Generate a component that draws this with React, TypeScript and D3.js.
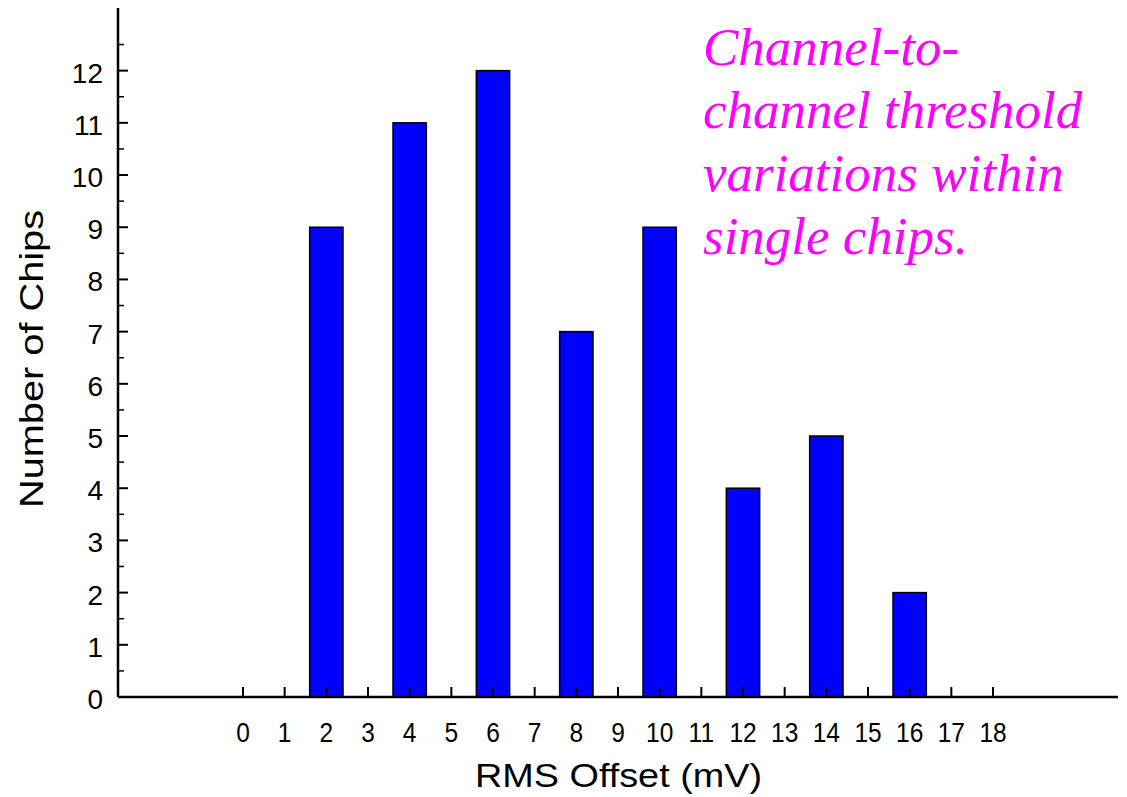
import * as d3 from 'd3';
import React, { useEffect } from 'react';

// RMS offset bins (mV) and number of chips per bin
const offsets = [0, 2, 4, 6, 8, 10, 12, 14, 16, 18];
const chips = [0, 9, 11, 12, 7, 9, 4, 5, 2, 0];
const xTicks = d3.range(0, 19);
const yTicks = d3.range(0, 13);
const noteLines = ['Channel-to-', 'channel threshold', 'variations within', 'single chips.'];

export default function App() {
  const ref = React.useRef<SVGSVGElement>(null);

  useEffect(() => {
    if (!ref.current) return;
    const svg = d3.select(ref.current);
    svg.selectAll('*').remove();

    const x = d3.scaleLinear().domain([-3, 21]).range([118, 1118]);
    const y = d3.scaleLinear().domain([0, 13.2]).range([697, 8]);
    const barW = x(0.8) - x(0);
    const font = 'Arial, "Liberation Sans", sans-serif';

    // bars
    svg
      .append('g')
      .selectAll('rect')
      .data(offsets)
      .enter()
      .append('rect')
      .attr('x', d => x(d) - barW / 2)
      .attr('y', (d, i) => y(chips[i]))
      .attr('width', barW)
      .attr('height', (d, i) => y(0) - y(chips[i]))
      .attr('fill', '#0000ff')
      .attr('stroke', '#000')
      .attr('stroke-width', 1.5);

    // y axis line + ticks
    svg
      .append('line')
      .attr('x1', x(-3))
      .attr('x2', x(-3))
      .attr('y1', y(13.2))
      .attr('y2', y(0))
      .attr('stroke', '#000')
      .attr('stroke-width', 2.5);
    const minor = d3.range(0.5, 13, 1);
    svg
      .append('g')
      .selectAll('line')
      .data(minor)
      .enter()
      .append('line')
      .attr('x1', x(-3))
      .attr('x2', x(-3) + 6)
      .attr('y1', d => y(d))
      .attr('y2', d => y(d))
      .attr('stroke', '#000')
      .attr('stroke-width', 1.5);
    svg
      .append('g')
      .selectAll('line')
      .data(yTicks)
      .enter()
      .append('line')
      .attr('x1', x(-3))
      .attr('x2', x(-3) + 10)
      .attr('y1', d => y(d))
      .attr('y2', d => y(d))
      .attr('stroke', '#000')
      .attr('stroke-width', 2);
    svg
      .append('g')
      .selectAll('text')
      .data(yTicks)
      .enter()
      .append('text')
      .attr('x', 103)
      .attr('y', d => y(d) + 12)
      .attr('text-anchor', 'end')
      .attr('font-family', font)
      .attr('font-size', 28)
      .text(d => d);

    // x axis line + ticks
    svg
      .append('line')
      .attr('x1', x(-3))
      .attr('x2', x(21))
      .attr('y1', y(0))
      .attr('y2', y(0))
      .attr('stroke', '#000')
      .attr('stroke-width', 2.5);
    svg
      .append('g')
      .selectAll('line')
      .data(xTicks)
      .enter()
      .append('line')
      .attr('x1', d => x(d))
      .attr('x2', d => x(d))
      .attr('y1', y(0))
      .attr('y2', y(0) - 10)
      .attr('stroke', '#000')
      .attr('stroke-width', 2);
    svg
      .append('g')
      .selectAll('text')
      .data(xTicks)
      .enter()
      .append('text')
      .attr('transform', d => `translate(${x(d)},742) scale(1,1.15)`)
      .attr('text-anchor', 'middle')
      .attr('font-family', font)
      .attr('font-size', 24.5)
      .text(d => d);

    // axis titles
    svg
      .append('text')
      .attr('x', 475)
      .attr('y', 787)
      .attr('textLength', 287)
      .attr('lengthAdjust', 'spacingAndGlyphs')
      .attr('font-family', font)
      .attr('font-size', 33)
      .text('RMS Offset (mV)');
    svg
      .append('text')
      .attr('transform', `translate(43,508) rotate(-90)`)
      .attr('textLength', 298)
      .attr('lengthAdjust', 'spacingAndGlyphs')
      .attr('font-family', font)
      .attr('font-size', 33)
      .text('Number of Chips');

    // annotation
    svg
      .append('text')
      .attr('font-family', '"Liberation Serif", "Times New Roman", serif')
      .attr('font-style', 'italic')
      .attr('font-size', 53)
      .attr('fill', '#ff00ff')
      .selectAll('tspan')
      .data(noteLines)
      .enter()
      .append('tspan')
      .attr('x', 703)
      .attr('y', (d, i) => 65 + i * 63)
      .text(d => d);
  }, []);

  return (
    <svg
      ref={ref}
      width={1127}
      height={797}
      style={{ position: 'absolute', left: 0, top: 0, background: '#fff' }}
    />
  );
}
